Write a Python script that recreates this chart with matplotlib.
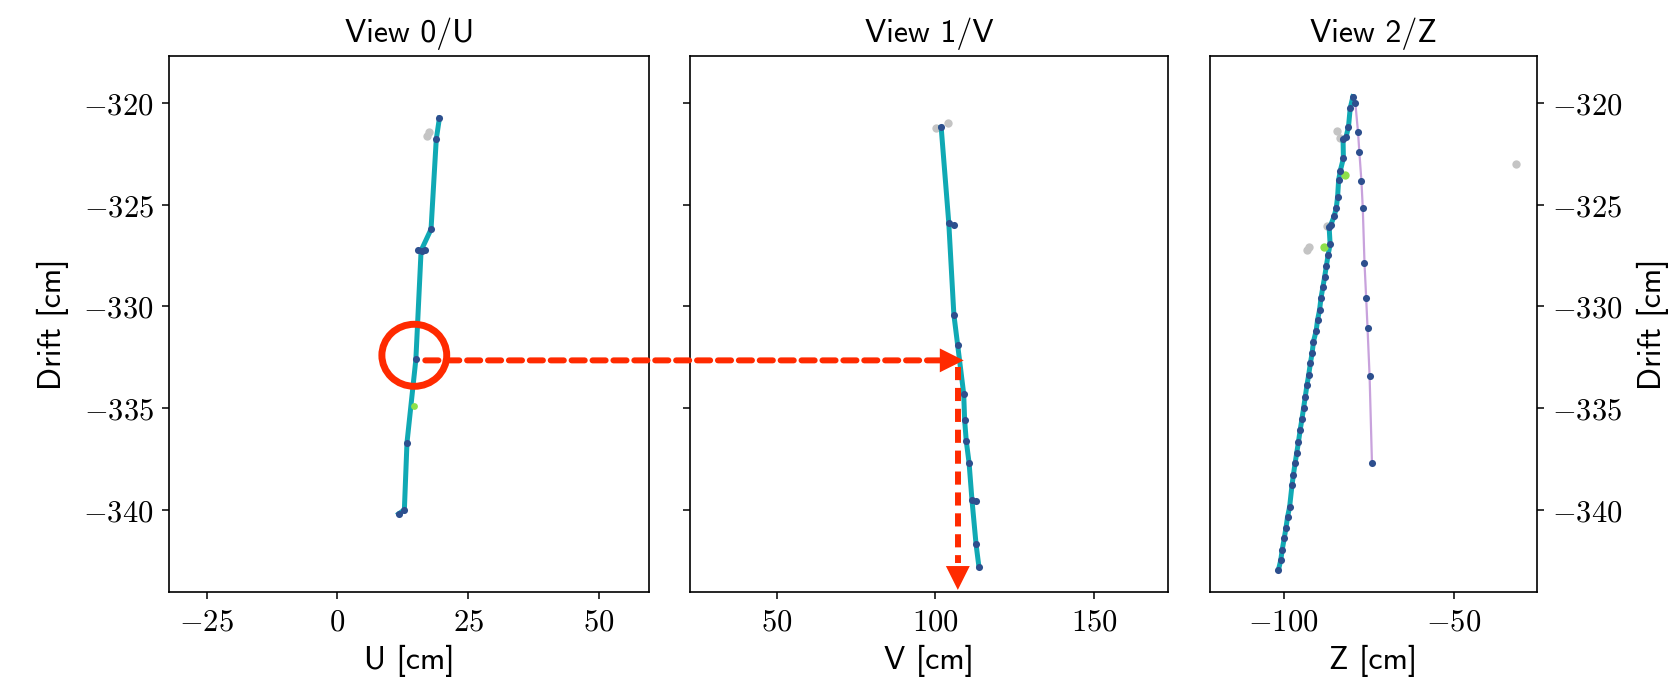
import numpy as np
import matplotlib
matplotlib.use("Agg")
import matplotlib.pyplot as plt
from matplotlib.patches import Ellipse, ConnectionPatch
from matplotlib.ticker import FuncFormatter

plt.rcParams['mathtext.fontset'] = 'cm'

# ---- data (cm) ----
# view 0 / U
u_trk = [19.5, 18.9, 17.9, 16.0, 15.0, 13.3, 12.8, 11.7]
u_trk_d = [-320.74, -321.78, -326.2, -327.25, -332.6, -336.7, -340.0, -340.2]
u_hit = [19.5, 18.9, 17.9, 16.8, 16.1, 15.5, 15.0, 13.3, 12.8, 11.7]
u_hit_d = [-320.74, -321.78, -326.2, -327.2, -327.25, -327.2, -332.6, -336.7, -340.0, -340.2]
u_gray = [17.2, 17.6]
u_gray_d = [-321.6, -321.4]
u_green = [14.7]
u_green_d = [-334.9]

# view 1 / V
v_trk = [101.8, 104.2, 105.8, 107.0, 108.9, 109.2, 109.7, 110.6, 111.5, 112.8, 113.7]
v_trk_d = [-321.19, -325.9, -330.4, -331.9, -334.3, -335.6, -336.6, -337.7, -339.5, -341.7, -342.8]
v_hit = [101.8, 104.2, 105.8, 105.8, 107.0, 108.9, 109.2, 109.7, 110.6, 111.5, 112.8, 112.8, 113.7]
v_hit_d = [-321.19, -325.9, -326.0, -330.4, -331.9, -334.3, -335.6, -336.6, -337.7, -339.5, -339.55, -341.7, -342.8]
v_gray = [100.3, 103.8]
v_gray_d = [-321.2, -321.0]

# view 2 / Z
z_trk = [-79.6, -80.4, -80.9, -81.6, -82.5, -82.4, -83.3, -83.8, -84.1, -84.5, -85.1,
         -86.1, -86.6, -86.3, -86.9, -87.4, -87.9, -88.4, -89.0, -89.4, -90.0, -90.4,
         -91.2, -91.6, -92.1, -92.6, -93.1, -93.6, -94.1, -94.6, -95.1, -95.6, -96.1,
         -96.6, -97.1, -97.5, -98.2, -98.8, -99.3, -99.8, -100.4, -100.8, -101.5]
z_trk_d = [-319.68, -320.25, -321.16, -321.65, -321.78, -322.71, -323.32, -323.78, -324.6,
           -325.17, -325.55, -325.99, -326.07, -326.94, -327.47, -328.0, -328.53, -329.02,
           -329.6, -330.17, -330.67, -331.19, -331.73, -332.3, -332.79, -333.37, -333.86,
           -334.43, -335.0, -335.55, -336.07, -336.65, -337.19, -337.71, -338.29, -338.78,
           -339.85, -340.34, -340.91, -341.41, -341.98, -342.47, -342.96]
z_trk2 = [-78.9, -78.1, -77.7, -77.1, -76.7, -76.2, -75.7, -75.3, -74.7, -74.0]
z_trk2_d = [-319.97, -321.43, -322.42, -323.83, -325.17, -327.85, -329.6, -331.08, -333.42, -337.71]
z_gray = [-84.3, -83.3, -92.4, -93.0, -87.2, -31.6]
z_gray_d = [-321.35, -321.7, -327.06, -327.2, -326.03, -323.0]
z_green = [-81.9, -88.0]
z_green_d = [-323.53, -327.07]

teal = '#10a9b4'
purple = '#c8a2dc'
hitc = '#2d4f8e'
grayc = '#c4c4c4'
greenc = '#8ee04a'
red = '#ff2a00'

fig = plt.figure(figsize=(16.69, 6.77), dpi=100)
ax1 = fig.add_axes([0.1013, 0.1256, 0.2876, 0.7917])
ax2 = fig.add_axes([0.4134, 0.1256, 0.2864, 0.7917])
ax3 = fig.add_axes([0.725, 0.1256, 0.1959, 0.7917])

fmt = FuncFormatter(lambda v, p: '${:g}$'.format(v))
sf = dict(family='cmss10', fontsize=23)

def hits(ax, x, y, c, s=26, z=4):
    ax.scatter(x, y, s=s, color=c, zorder=z, linewidths=0)

# U
hits(ax1, u_gray, u_gray_d, grayc, s=36, z=2)
ax1.plot(u_trk, u_trk_d, color=teal, lw=3.6, zorder=3)
hits(ax1, u_hit, u_hit_d, hitc)
hits(ax1, u_green, u_green_d, greenc, s=24, z=3.5)

# V
hits(ax2, v_gray, v_gray_d, grayc, s=36, z=2)
ax2.plot(v_trk, v_trk_d, color=teal, lw=3.6, zorder=3)
hits(ax2, v_hit, v_hit_d, hitc)

# Z
hits(ax3, z_gray, z_gray_d, grayc, s=36, z=2)
ax3.plot(z_trk2, z_trk2_d, color=purple, lw=1.6, zorder=3)
ax3.plot(z_trk, z_trk_d, color=teal, lw=3.6, zorder=3)
hits(ax3, z_trk2, z_trk2_d, hitc)
hits(ax3, z_trk, z_trk_d, hitc)
hits(ax3, z_green, z_green_d, greenc, s=36, z=3.5)

ax1.set_xlim(-32.2, 59.6)
ax2.set_xlim(22.6, 173.3)
ax3.set_xlim(-121.6, -25.5)
ax1.set_xticks([-25, 0, 25, 50])
ax2.set_xticks([50, 100, 150])
ax3.set_xticks([-100, -50])

for ax, lab, ttl in [(ax1, 'U [cm]', 'View 0/U'), (ax2, 'V [cm]', 'View 1/V'), (ax3, 'Z [cm]', 'View 2/Z')]:
    ax.set_ylim(-344.04, -317.68)
    ax.set_yticks([-340, -335, -330, -325, -320])
    ax.xaxis.set_major_formatter(fmt)
    ax.yaxis.set_major_formatter(fmt)
    ax.tick_params(labelsize=22, length=5, width=1.1, pad=6)
    for s in ax.spines.values():
        s.set_linewidth(1.2)
    ax.set_xlabel(lab, labelpad=6, **sf)
    ax.set_title(ttl, pad=10, **sf)

ax1.set_ylabel('Drift [cm]', labelpad=10, **sf)
ax2.tick_params(labelleft=False)
ax3.yaxis.tick_right()
ax3.yaxis.set_label_position('right')
ax3.set_ylabel('Drift [cm]', labelpad=10, **sf)

# red annotation: circle + dashed arrows
ax1.add_patch(Ellipse((14.7, -332.4), 12.4, 3.05, fill=False, ec=red, lw=5, clip_on=False, zorder=6))
con = ConnectionPatch(xyA=(16.8, -332.65), coordsA=ax1.transData,
                      xyB=(101.6, -332.65), coordsB=ax2.transData,
                      color=red, lw=4.3, linestyle=(0, (2.2, 1.3)), zorder=6)
fig.add_artist(con)
ax2.annotate('', xy=(108.9, -332.65), xytext=(101.0, -332.65),
             arrowprops=dict(arrowstyle='-|>', mutation_scale=43, color=red, lw=0,
                             shrinkA=0, shrinkB=0), zorder=6, annotation_clip=False)
ax2.plot([107.05, 107.05], [-333.0, -342.6], color=red, lw=4.3, linestyle=(0, (2.2, 1.3)),
         zorder=6, clip_on=False)
ax2.annotate('', xy=(107.05, -343.94), xytext=(107.05, -342.5),
             arrowprops=dict(arrowstyle='-|>', mutation_scale=43, color=red, lw=0,
                             shrinkA=0, shrinkB=0), zorder=6, annotation_clip=False)

fig.savefig('out.png', dpi=100)
